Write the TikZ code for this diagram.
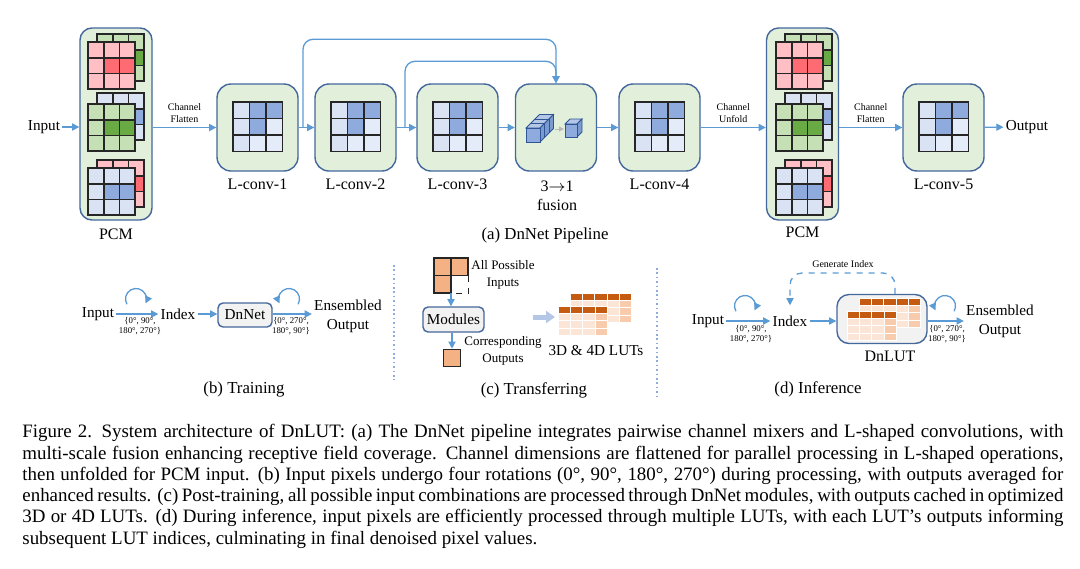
\documentclass[tikz,border=0pt]{standalone}
\usepackage{fontspec}
\setmainfont{Liberation Serif}
\usetikzlibrary{arrows.meta,calc}

\definecolor{boxgreen}{HTML}{E2EFDA}
\definecolor{boxline}{HTML}{44679C}
\definecolor{flowblue}{HTML}{5B9BD5}
\definecolor{cellline}{HTML}{262626}
\definecolor{lcA}{HTML}{DAE3F3}
\definecolor{lcB}{HTML}{8FAADC}
\definecolor{lcC}{HTML}{E3ECF8}
\definecolor{redL}{HTML}{FFBFC5}
\definecolor{redD}{HTML}{FF6B72}
\definecolor{grnL}{HTML}{C5E0B4}
\definecolor{grnD}{HTML}{6AAA45}
\definecolor{lutH}{HTML}{C55A11}
\definecolor{lutL}{HTML}{FBE5D6}
\definecolor{lutM}{HTML}{F8CBAD}
\definecolor{sqOr}{HTML}{F4B183}
\definecolor{greybox}{HTML}{F2F2F2}
\definecolor{fatblue}{HTML}{B4C7E7}
\definecolor{cubeF}{HTML}{8FAADC}
\definecolor{cubeT}{HTML}{B4C7E7}
\definecolor{cubeS}{HTML}{7A9AD0}
\definecolor{cubeline}{HTML}{2F5597}

\begin{document}
\begin{tikzpicture}[x=0.5pt,y=-0.5pt,
  stage/.style={draw=boxline, fill=boxgreen, rounded corners=7pt, line width=0.7pt, minimum width=40.5pt, minimum height=43.5pt, inner sep=0},
  pcmbox/.style={draw=boxline, fill=boxgreen, rounded corners=6pt, line width=0.7pt, minimum width=36pt, minimum height=96pt, inner sep=0},
  greyblock/.style={draw=boxline, fill=greybox, rounded corners=2.5pt, line width=0.7pt, inner sep=0},
  flow/.style={draw=flowblue, line width=0.65pt, -{Triangle[length=3.6pt,width=3.6pt]}},
  fatflow/.style={draw=fatblue, line width=2.5pt, -{Triangle[length=4.5pt,width=6pt]}},
  sepline/.style={draw=lcB, line width=0.7pt, dash pattern=on 0.8pt off 1.4pt},
  cell/.style={draw=cellline, line width=0.8pt},
  cube/.style={draw=cubeline, line width=0.4pt},
  lbl/.style={font=\fontsize{7.6}{9.5}\selectfont, inner sep=1pt, align=center},
  stagelbl/.style={font=\fontsize{8}{9.5}\selectfont, inner sep=1pt},
  small/.style={font=\fontsize{6.5}{8.5}\selectfont, inner sep=0, align=center},
  tiny/.style={font=\fontsize{5}{6}\selectfont, inner sep=0, align=center},
  deg/.style={font=\fontsize{4.4}{4.8}\selectfont, inner sep=0, align=center},
  sub/.style={font=\fontsize{8.4}{10}\selectfont, inner sep=1pt}]

\useasboundingbox (0,0) rectangle (1080,568);

\def \lcell {16.5}
\def \pcell {15.7}
\def \lutw {12.3}
\def \luth {7.3}
\def \rad {10.5}

\def\lgrid#1#2{
  \foreach \ca/\cb/\cc [count=\rw from 0] in {lcA/lcB/lcB, lcA/lcB/lcC, lcA/lcC/lcC}
    \foreach \f [count=\cl from 0] in {\ca,\cb,\cc}
      \filldraw[cell, fill=\f] ({#1+\cl*\lcell},{#2+\rw*\lcell}) rectangle +(\lcell,\lcell);
}

\def\pgrid#1#2#3#4{
  \foreach \rw in {0,1,2}
    \foreach \cl in {0,1,2}
      \filldraw[cell, fill=#3] ({#1+\cl*\pcell},{#2+\rw*\pcell}) rectangle +(\pcell,\pcell);
  \foreach \cl in {1,2}
    \filldraw[cell, fill=#4] ({#1+\cl*\pcell},{#2+\pcell}) rectangle +(\pcell,\pcell);
}

\def\pcmstack#1#2{
  \pgrid{#1+9}{#2-8}{grnL}{grnD}
  \pgrid{#1}{#2}{redL}{redD}
  \pgrid{#1+9}{#2+51}{lcA}{lcB}
  \pgrid{#1}{#2+62}{grnL}{grnD}
  \pgrid{#1+9}{#2+118}{redL}{redD}
  \pgrid{#1}{#2+126}{lcA}{lcB}
}

\def\lut#1#2{
  \foreach \cl in {0,...,4}
    \filldraw[fill=lutH, draw=white, line width=0.3pt] ({#1+12+\cl*\lutw},{#2-13}) rectangle +(\lutw,\luth);
  \foreach \cl in {0,...,3}
    \foreach \rw in {1,2,3}
      \filldraw[fill=lutL, draw=white, line width=0.3pt] ({#1+12+\cl*\lutw},{#2-13+\rw*\luth}) rectangle +(\lutw,\luth);
  \foreach \rw in {1,2,3}
    \filldraw[fill=lutM, draw=white, line width=0.3pt] ({#1+12+4*\lutw},{#2-13+\rw*\luth}) rectangle +(\lutw,\luth);
  \foreach \cl in {0,...,3}
    \filldraw[fill=lutH, draw=white, line width=0.3pt] ({#1+\cl*\lutw},{#2}) rectangle +(\lutw,\luth);
  \foreach \cl in {0,...,2}
    \foreach \rw in {1,2,3}
      \filldraw[fill=lutL, draw=white, line width=0.3pt] ({#1+\cl*\lutw},{#2+\rw*\luth}) rectangle +(\lutw,\luth);
  \foreach \rw in {1,2,3}
    \filldraw[fill=lutM, draw=white, line width=0.3pt] ({#1+3*\lutw},{#2+\rw*\luth}) rectangle +(\lutw,\luth);
}

\def\rotcw#1{\draw[flow] ($(#1)+(150:\rad)$) arc[start angle=150, end angle=385, radius=\rad];}
\def\rotccw#1{\draw[flow] ($(#1)+(30:\rad)$) arc[start angle=30, end angle=-205, radius=\rad];}

% (a) pipeline
\node[lbl] (in1) at (44,127) {Input};
\node[pcmbox] (pcm1) at (116,124) {};
\pcmstack{88}{42}
\node[stagelbl] (pcm1lab) at (116,234) {PCM};

\foreach \i/\x in {1/257.5, 2/355.5, 3/457.5, 4/659.5, 5/943.5}
{
  \node[stage] (lc\i) at (\x,127.5) {};
  \lgrid{\x-24.5}{102}
  \node[stagelbl] (lc\i lab) at (\x,184) {L-conv-\i};
}

\node[stage] (fus) at (556,127.5) {};
\filldraw[cube, fill=cubeT] (526,128) -- (540,128) -- (553.5,114.5) -- (539.5,114.5) -- cycle;
\filldraw[cube, fill=cubeS] (540,128) -- (553.5,114.5) -- (553.5,128.5) -- (540,142) -- cycle;
\filldraw[cube, fill=cubeF] (526,128) rectangle (540,142);
\foreach \k in {1,2}
  \draw[cube] ({526+4.5*\k},{128-4.5*\k}) -- ({540+4.5*\k},{128-4.5*\k}) -- ({540+4.5*\k},{142-4.5*\k});
\draw[gray!55, line width=0.5pt, -{Triangle[length=2.5pt,width=2.5pt]}] (555,129) -- (564,129);
\filldraw[cube, fill=cubeT] (565,124) -- (577,124) -- (582,119) -- (570,119) -- cycle;
\filldraw[cube, fill=cubeS] (577,124) -- (582,119) -- (582,132) -- (577,137) -- cycle;
\filldraw[cube, fill=cubeF] (565,124) rectangle (577,137);
\node[stagelbl] (fuslab) at (557,186) {3$\rightarrow$1};
\node[stagelbl] (fuslab2) at (557,205) {fusion};

\node[pcmbox] (pcm2) at (802.5,124) {};
\pcmstack{776}{42}
\node[stagelbl] (pcm2lab) at (802.5,232) {PCM};
\node[lbl] (out1) at (1027,127) {Output};

\draw[flow] (in1) -- (in1 -| pcm1.west);
\draw[flow] (pcm1.east |- lc1) -- node[tiny, above=2pt] (flat1) {Channel\\Flatten} (lc1);
\draw[flow] (lc1) -- (lc2);
\draw[flow] (lc2) -- (lc3);
\draw[flow] (lc3) -- (fus);
\draw[flow] (fus) -- (lc4);
\draw[flow] (lc4) -- node[tiny, above=2pt] (unf) {Channel\\Unfold} (lc4 -| pcm2.west);
\draw[flow] (pcm2.east |- lc5) -- node[tiny, above=2pt] (flat2) {Channel\\Flatten} (lc5);
\draw[flow] (lc5) -- (out1);

\coordinate (br1) at (303,127.5);
\coordinate (br2) at (405,127.5);
\path (fus.north) ++(0,-44) coordinate (top1) ++(0,22) coordinate (top2);
\draw[flow, rounded corners=5pt] (br1) |- (top1) -- (fus.north);
\draw[flow, rounded corners=5pt] (br2) |- (top2) -- (fus.north);

\node[sub] (capa) at (545,235) {(a) DnNet Pipeline};

% (b) training
\node[lbl] (in2) at (98,314) {Input};
\node[lbl] (idx1) at (178,314) {Index};
\node[greyblock, lbl, minimum width=27pt, minimum height=12pt] (dnnet) at (245,315) {DnNet};
\node[lbl] (ens1) at (348,316) {Ensembled\\Output};
\draw[flow] (in2) -- (idx1);
\draw[flow] (idx1) -- (idx1 -| dnnet.west);
\draw[flow] (dnnet.east |- idx1) -- (idx1 -| ens1.west);
\node[deg] (rot1) at (140,326) {\{0°, 90°,\\180°, 270°\}};
\node[deg] (rot2) at (291,326) {\{0°, 270°,\\180°, 90°\}};
\coordinate (c1) at (136,299);
\coordinate (c2) at (289,299);
\rotcw{c1}
\rotccw{c2}
\node[sub] (capb) at (244,389) {(b) Training};

% (c) transferring
\draw[sepline] (394,265) -- (394,380);
\draw[sepline] (657,268) -- (657,398);
\node[inner sep=0, minimum width=16.5pt, minimum height=17.5pt] (allin) at (451,275.5) {};
\foreach \x/\y in {434/258, 451/258, 434/275.5}
  \filldraw[cell, fill=sqOr] (\x,\y) rectangle +(17,17.5);
\draw[cell, dashed, line width=0.5pt] (468,275.5) |- (451,293);
\node[small] (allinlab) at (503,275) {All Possible\\Inputs};
\node[greyblock, lbl, minimum width=30.5pt, minimum height=12.5pt] (mods) at (453.5,319.5) {Modules};
\node[cell, fill=sqOr, minimum size=8.5pt, inner sep=0] (cout) at (452,358) {};
\node[small] (coutlab) at (503,351) {Corresponding\\Outputs};
\draw[flow] (allin.south) -- (allin.south |- mods.north);
\draw[flow] (mods.south -| cout) -- (cout.north);
\coordinate (fa) at (533,317);
\coordinate (fb) at (555,317);
\draw[fatflow] (fa) -- (fb);
\lut{558}{306}
\node[lbl] (lutlab) at (596,351) {3D \& 4D LUTs};
\node[sub] (capc) at (534,390) {(c) Transferring};

% (d) inference
\node[lbl] (in3) at (708,321) {Input};
\node[lbl] (idx2) at (790,321) {Index};
\node[greyblock, rounded corners=6pt, minimum width=45pt, minimum height=24.5pt] (dnlut) at (882,319) {};
\lut{847}{311}
\node[stagelbl] (dnlutlab) at (890,356) {DnLUT};
\node[lbl] (ens2) at (1000,321.5) {Ensembled\\Output};
\draw[flow] (in3) -- (idx2);
\draw[flow] (idx2) -- (idx2 -| dnlut.west);
\draw[flow] (dnlut.east |- idx2) -- (idx2 -| ens2.west);
\node[deg] (rot3) at (751,334) {\{0°, 90°,\\180°, 270°\}};
\node[deg] (rot4) at (947,334) {\{0°, 270°,\\180°, 90°\}};
\coordinate (c3) at (745,306);
\coordinate (c4) at (945,306);
\rotcw{c3}
\rotccw{c4}
\coordinate (gen) at (843,273);
\draw[flow, dashed, rounded corners=6pt] ([xshift=6.5pt]dnlut.north) |- (gen) -| ([yshift=4pt]idx2.north);
\node[tiny] (genlab) at (843,264) {Generate Index};
\node[sub] (capd) at (818,389) {(d) Inference};

% caption
\node[anchor=north west, inner sep=0, text width=520.5pt, align=justify, font=\fontsize{9.46}{10.65}\selectfont] (cap) at (22,424)
{Figure 2.\hspace{0.5em}System architecture of DnLUT: (a) The DnNet pipeline integrates pairwise channel mixers and L-shaped convolutions, with\linebreak multi-scale fusion enhancing receptive field coverage. Channel dimensions are flattened for parallel processing in L-shaped operations,\linebreak then unfolded for PCM input. (b) Input pixels undergo four rotations (0°, 90°, 180°, 270°) during processing, with outputs averaged for\linebreak enhanced results. (c) Post-training, all possible input combinations are processed through DnNet modules, with outputs cached in optimized\linebreak 3D or 4D LUTs. (d) During inference, input pixels are efficiently processed through multiple LUTs, with each LUT’s outputs informing\linebreak subsequent LUT indices, culminating in final denoised pixel values.};

\end{tikzpicture}
\end{document}
